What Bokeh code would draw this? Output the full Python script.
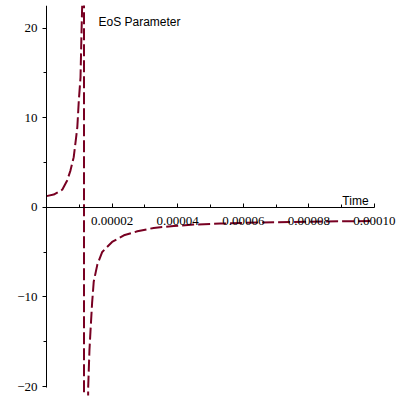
from bokeh.plotting import figure
from bokeh.models import FixedTicker, PrintfTickFormatter, Label, Range1d
from bokeh.embed import file_html
from bokeh.resources import INLINE

# Values (Maple-style plot of the EoS parameter)
time = [0.0, 2.2e-6, 4.8e-6, 6.3e-6, 7.3e-6, 8.3e-6, 9.1e-6, 9.4e-6, 9.85e-6,
        1.037e-5, 1.067e-5, 1.088e-5, 1.143e-5, 1.144e-5,
        1.27e-5, 1.31e-5, 1.34e-5, 1.39e-5, 1.44e-5, 1.55e-5, 1.70e-5,
        2.0e-5, 2.36e-5, 2.77e-5, 3.27e-5, 3.88e-5, 4.49e-5, 5.3e-5,
        6.0e-5, 7.0e-5, 8.0e-5, 9.0e-5, 1.0e-4]
eos = [1.25, 1.42, 1.97, 3.0, 4.1, 5.6, 8.0, 8.95, 11.9,
       14.5, 19.4, 22.5, 400.0, -400.0,
       -20.2, -15.9, -13.9, -10.7, -8.3, -6.4, -4.98,
       -3.87, -3.12, -2.68, -2.3, -2.08, -1.93, -1.82,
       -1.74, -1.66, -1.60, -1.56, -1.53]

x_major = [2e-5, 4e-5, 6e-5, 8e-5, 1e-4]
x_minor = [1e-5, 3e-5, 5e-5, 7e-5, 9e-5]
y_major = [-20, -10, 0, 10, 20]
y_minor = [-15, -5, 5, 15]

p = figure(width=400, height=400, output_backend="svg", toolbar_location=None,
           x_range=Range1d(-1.4024e-5, 1.0793e-4), y_range=Range1d(-21.0, 22.52),
           min_border_left=0, min_border_right=0, min_border_top=5,
           min_border_bottom=5)
p.outline_line_color = None
p.xgrid.visible = False
p.ygrid.visible = False
p.background_fill_color = "white"
p.border_fill_color = "white"

p.line(time, eos, line_color="#780022", line_width=2, line_dash="12 4")

xa = p.xaxis[0]
xa.fixed_location = 0
xa.bounds = (0, 1e-4)
xa.ticker = FixedTicker(ticks=x_major, minor_ticks=x_minor)
xa.formatter = PrintfTickFormatter(format="%.5f")
xa.major_tick_in = 4
xa.major_tick_out = 0
xa.minor_tick_in = 3
xa.minor_tick_out = 0
xa.major_label_standoff = 10
xa.major_label_text_font = "Liberation Serif"
xa.major_label_text_font_size = "13px"
xa.major_label_text_color = "black"
xa.axis_line_color = "black"

ya = p.yaxis[0]
ya.fixed_location = 0
ya.bounds = (-20.1, 22.6)
ya.ticker = FixedTicker(ticks=y_major, minor_ticks=y_minor)
ya.major_tick_in = 0
ya.major_tick_out = 4
ya.minor_tick_in = 0
ya.minor_tick_out = 3
ya.major_label_standoff = 5
ya.major_label_text_font = "Liberation Serif"
ya.major_label_text_font_size = "13px"
ya.major_label_text_color = "black"
ya.axis_line_color = "black"

p.add_layout(Label(x=1.585e-5, y=20.7, text="EoS Parameter",
                   text_font="Liberation Sans", text_font_size="12px",
                   text_baseline="middle", text_color="black"))
p.add_layout(Label(x=9.82e-5, y=0.7, text="Time",
                   text_font="Liberation Sans", text_font_size="12px",
                   text_align="right", text_baseline="alphabetic",
                   text_color="black"))

open("out.html", "w").write(file_html(p, INLINE))
